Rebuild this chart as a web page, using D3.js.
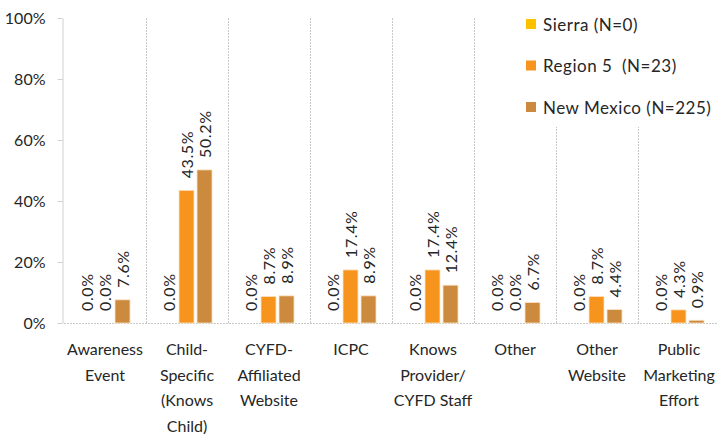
<!DOCTYPE html>
<html>
<head>
<meta charset="utf-8">
<script src="https://cdn.jsdelivr.net/npm/d3@7"></script>
<style>
  html, body { margin: 0; padding: 0; background: #fff; }
  svg { display: block; }
  text { font-family: Lato, "Liberation Sans", sans-serif; fill: #262626; }
</style>
</head>
<body>
<svg id="chart" width="718" height="434"></svg>
<script>
// Referral sources by area
const categories = [
  ["Awareness", "Event"],
  ["Child-", "Specific", "(Knows", "Child)"],
  ["CYFD-", "Affiliated", "Website"],
  ["ICPC"],
  ["Knows", "Provider/", "CYFD Staff"],
  ["Other"],
  ["Other", "Website"],
  ["Public", "Marketing", "Effort"]
];
const seriesNames = ["Sierra (N=0)", "Region 5  (N=23)", "New Mexico (N=225)"];
const sierra    = [0.0, 0.0, 0.0, 0.0, 0.0, 0.0, 0.0, 0.0];
const region5   = [0.0, 43.5, 8.7, 17.4, 17.4, 0.0, 8.7, 4.3];
const newMexico = [7.6, 50.2, 8.9, 8.9, 12.4, 6.7, 4.4, 0.9];
const yTicks = [0, 20, 40, 60, 80, 100];
const colors = ["#FFC000", "#F7941D", "#CC8A3F"];

const seriesValues = [sierra, region5, newMexico];
const catKeys = categories.map(c => c.join(" "));

const svg = d3.select("#chart");

const x0 = d3.scaleBand().domain(catKeys).range([64, 720]).padding(0);
const x1 = d3.scaleBand().domain(d3.range(seriesNames.length))
  .range([x0.bandwidth() * 0.183, x0.bandwidth() * 0.805])
  .paddingInner(0.167).paddingOuter(0);
const y = d3.scaleLinear().domain([0, 100]).range([323, 18]);

// vertical dotted separators between categories
svg.append("g")
  .selectAll("line")
  .data(catKeys.slice(1))
  .join("line")
  .attr("x1", d => x0(d) + 0.5)
  .attr("x2", d => x0(d) + 0.5)
  .attr("y1", y(100))
  .attr("y2", y(0))
  .attr("stroke", "#c8c8c8")
  .attr("stroke-width", 1)
  .attr("stroke-dasharray", "2,1");

// baseline
svg.append("line")
  .attr("x1", x0.range()[0])
  .attr("x2", 718)
  .attr("y1", y(0) + 0.5)
  .attr("y2", y(0) + 0.5)
  .attr("stroke", "#c8c8c8")
  .attr("stroke-dasharray", "2,1");

// y axis
const yAxis = d3.axisLeft(y)
  .tickValues(yTicks)
  .tickFormat(d => d + "%")
  .tickSizeInner(5)
  .tickSizeOuter(0)
  .tickPadding(12);
const yg = svg.append("g")
  .attr("transform", `translate(${x0.range()[0] - 1.5},0)`)
  .call(yAxis);
yg.select(".domain").attr("stroke", "#d0d0d0");
yg.selectAll(".tick line").attr("stroke", "#d0d0d0");
yg.selectAll(".tick text")
  .attr("font-size", 16)
  .attr("font-family", "Lato, 'Liberation Sans', sans-serif")
  .attr("fill", "#262626");

// bars
const groups = svg.append("g")
  .selectAll("g")
  .data(catKeys)
  .join("g")
  .attr("transform", d => `translate(${x0(d)},0)`);

const barData = (d, i) => seriesValues.map((vals, s) => ({ s, v: vals[i] }));

groups.selectAll("rect")
  .data(barData)
  .join("rect")
  .attr("x", d => x1(d.s))
  .attr("width", x1.bandwidth())
  .attr("y", d => y(d.v))
  .attr("height", d => y(0) - y(d.v))
  .attr("fill", d => colors[d.s])
  .attr("stroke", "#fbe3c4")
  .attr("stroke-width", d => d.v > 0 ? 0.8 : 0);

// rotated value labels
groups.selectAll("text.val")
  .data(barData)
  .join("text")
  .attr("class", "val")
  .attr("transform", d => `translate(${x1(d.s) + x1.bandwidth() / 2},${y(d.v) - 12}) rotate(-90)`)
  .attr("text-anchor", "start")
  .attr("dominant-baseline", "central")
  .attr("font-size", 16)
  .attr("letter-spacing", 0.6)
  .text(d => d.v.toFixed(1) + "%");

// category labels
const labels = svg.append("g")
  .selectAll("text")
  .data(categories)
  .join("text")
  .attr("x", (d, i) => x0(catKeys[i]) + x0.bandwidth() / 2)
  .attr("y", 355)
  .attr("text-anchor", "middle")
  .attr("font-size", 16);
labels.selectAll("tspan")
  .data(d => d)
  .join("tspan")
  .attr("x", function () { return d3.select(this.parentNode).attr("x"); })
  .attr("dy", (d, i) => i === 0 ? 0 : 25.5)
  .text(d => d);

// legend
const legend = svg.append("g");
legend.append("rect")
  .attr("x", 516).attr("y", 0)
  .attr("width", 202).attr("height", 127)
  .attr("fill", "#fff");
const li = legend.selectAll("g")
  .data(seriesNames)
  .join("g")
  .attr("transform", (d, i) => `translate(526,${24 + i * 41.5})`);
li.append("rect")
  .attr("x", 0).attr("y", -5)
  .attr("width", 10).attr("height", 10)
  .attr("fill", (d, i) => colors[i]);
li.append("text")
  .attr("x", 17)
  .attr("y", 0)
  .attr("dominant-baseline", "central")
  .attr("font-size", 17)
  .attr("letter-spacing", 0.5)
  .style("white-space", "pre")
  .text(d => d);
</script>
</body>
</html>
